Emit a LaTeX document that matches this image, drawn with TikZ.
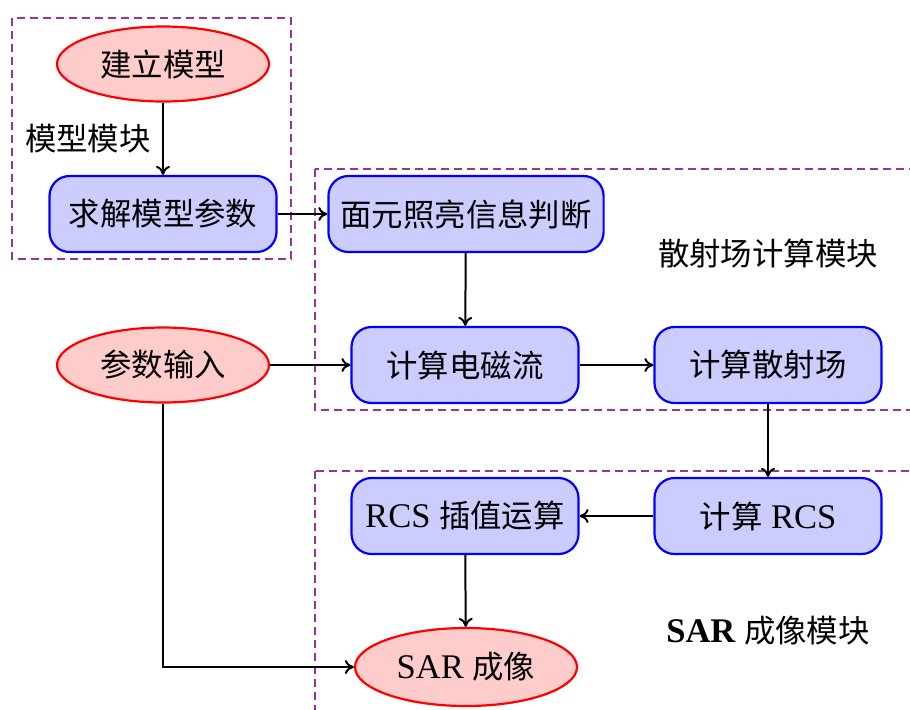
\documentclass[tikz,border=0pt]{standalone}
\usepackage{fontspec}
\setmainfont[Scale=1.1]{Liberation Serif}
\newfontfamily\zh{Noto Sans CJK SC}
\usetikzlibrary{shapes.geometric,arrows.meta}
\begin{document}
\begin{tikzpicture}[x=0.5pt,y=-0.5pt,
  every node/.style={font=\fontsize{15.7}{19}\selectfont},
  proc/.style={rectangle, rounded corners=10pt, draw=blue, fill=blue!20, line width=1.1pt,
    minimum width=113.5pt, minimum height=38pt, inner sep=6pt},
  term/.style={ellipse, draw=red, fill=red!20, line width=1.1pt,
    minimum width=106pt, minimum height=37.5pt, inner sep=2pt},
  module/.style={draw=violet!80, dash pattern=on 4pt off 2.5pt, line width=0.6pt},
  arr/.style={-{To[length=4.5pt,width=7pt]}, line width=1pt}]
\useasboundingbox (0,0) rectangle (910,709);
\begin{scope}
\clip (0,0) rectangle (910,709);
\draw[module] (12,18) rectangle (291,259);
\draw[module] (315,169) rectangle (960,410);
\draw[module] (315,471) rectangle (960,760);
\end{scope}

\node[term] (model) at (163,64) {\zh 建立模型};
\node[proc] (solve) at (163,214) {\zh 求解模型参数};
\node[term] (input) at (163,365) {\zh 参数输入};
\node[proc] (illum) at (466,214) {\zh 面元照亮信息判断};
\node[proc] (curr) at (465,365) {\zh 计算电磁流};
\node[proc] (scat) at (768,365) {\zh 计算散射场};
\node[proc] (rcs) at (768,516) {{\zh 计算} RCS};
\node[proc] (interp) at (465,516) {RCS {\zh 插值运算}};
\node[term, minimum width=111pt, minimum height=39pt] (sar) at (466,667) {SAR {\zh 成像}};

\node (lab1) at (88,139) {\zh 模型模块};
\node (lab2) at (768,254) {\zh 散射场计算模块};
\node (lab3) at (768,631) {{\bfseries SAR} {\zh 成像模块}};

\draw[arr] (model) -- (solve);
\draw[arr] (solve) -- (illum);
\draw[arr] (illum) -- (curr);
\draw[arr] (input) -- (curr);
\draw[arr] (curr) -- (scat);
\draw[arr] (scat) -- (rcs);
\draw[arr] (rcs) -- (interp);
\draw[arr] (interp) -- (sar);
\draw[arr] (input.south) |- (sar.west);
\end{tikzpicture}
\end{document}
